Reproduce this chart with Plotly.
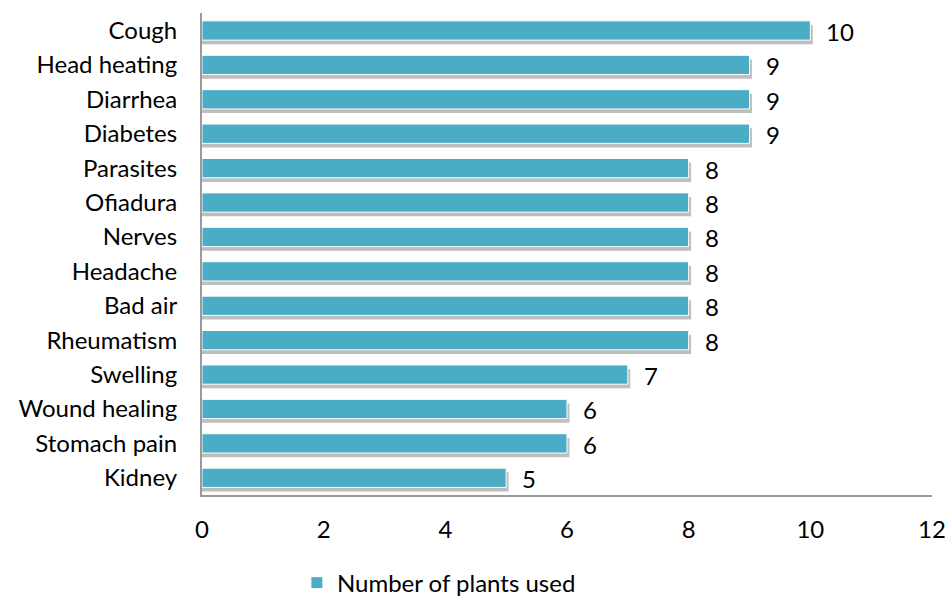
import plotly.graph_objects as go

# Ailments and how many plants are used to treat each
ailments = ["Cough", "Head heating", "Diarrhea", "Diabetes", "Parasites", "Ofiadura",
            "Nerves", "Headache", "Bad air", "Rheumatism", "Swelling",
            "Wound healing", "Stomach pain", "Kidney"]
plants_used = [10, 9, 9, 9, 8, 8, 8, 8, 8, 8, 7, 6, 6, 5]

series_name = "Number of plants used"
x_ticks = [0, 2, 4, 6, 8, 10, 12]

BAR_COLOR = "#4BACC6"
FONT = "Lato, Calibri, Carlito, sans-serif"
FS = 24
BAR_W = 0.56

fig = go.Figure()

# soft drop shadow under each bar
fig.add_trace(go.Bar(
    y=ailments, x=[v + 0.04 for v in plants_used], orientation="h",
    width=BAR_W, offset=-BAR_W / 2 + 0.12,
    marker=dict(color="rgba(110,110,110,0.45)", line=dict(width=0)),
    showlegend=False, hoverinfo="skip",
))

fig.add_trace(go.Bar(
    y=ailments, x=plants_used, orientation="h", name=series_name,
    width=BAR_W, offset=-BAR_W / 2,
    marker=dict(color=BAR_COLOR, line=dict(color="white", width=1)),
))

for name, v in zip(ailments, plants_used):
    fig.add_annotation(x=v, y=name, text=str(v), showarrow=False,
                       xanchor="left", xshift=14, yshift=-1,
                       font=dict(family=FONT, size=FS, color="black"))

fig.update_layout(
    width=947, height=599,
    margin=dict(l=202, r=15, t=13, b=104, autoexpand=False),
    paper_bgcolor="white", plot_bgcolor="white",
    barmode="overlay",
    font=dict(family=FONT, size=FS, color="black"),
    showlegend=True,
    legend=dict(orientation="h", x=0.13, xanchor="left", y=-0.136, yanchor="top",
                font=dict(family=FONT, size=FS, color="black"),
                itemwidth=30),
    xaxis=dict(range=[0, 12], tickvals=x_ticks, showgrid=False, zeroline=False,
               showline=True, linecolor="#9a9a9a", linewidth=2,
               ticks="", ticklabelstandoff=12, automargin=False,
               tickfont=dict(family=FONT, size=FS, color="black")),
    yaxis=dict(categoryorder="array", categoryarray=ailments, autorange="reversed",
               showgrid=False, showline=True, linecolor="#9a9a9a", linewidth=2,
               ticks="", ticklabelstandoff=18, automargin=False,
               tickfont=dict(family=FONT, size=FS, color="black")),
)

fig.write_html("out.html")
